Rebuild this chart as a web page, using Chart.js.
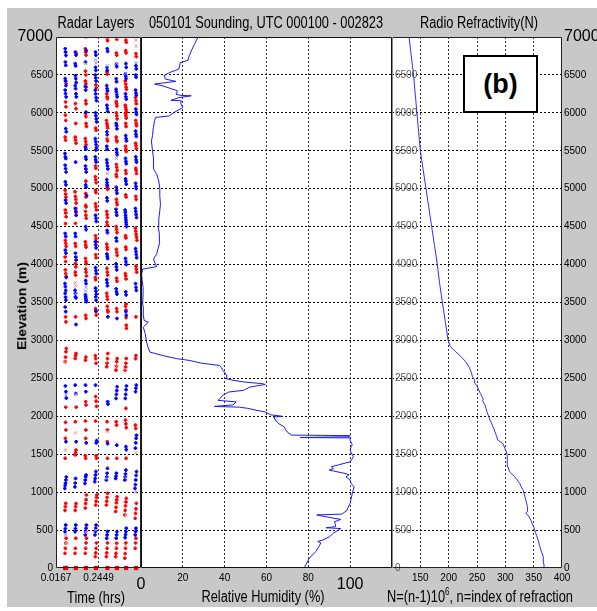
<!DOCTYPE html>
<html>
<head>
<meta charset="utf-8">
<script src="https://cdn.jsdelivr.net/npm/chart.js@4.4.0/dist/chart.umd.min.js"></script>
<style>
html,body{margin:0;padding:0;background:#fff;}
#fig{position:relative;width:597px;height:611px;overflow:hidden;background:#fff;font-family:"Liberation Sans",Arial,sans-serif;}
#frame{position:absolute;left:7px;top:8px;width:590px;height:599px;background:#c8c8c8;}
canvas{position:absolute;top:0;}
.lbl{position:absolute;white-space:nowrap;font-size:16px;line-height:1;color:#000;transform:translate(-50%,-50%) scaleX(0.8);}
.lbl sup{font-size:10px;vertical-align:7px;line-height:0;}
#ylab{position:absolute;left:22px;top:306px;white-space:nowrap;font-size:14px;font-weight:bold;line-height:1;transform:translate(-50%,-50%) rotate(-90deg) scaleY(0.85);}
#tag{position:absolute;left:463px;top:55px;width:71px;height:54px;border:2px solid #000;background:#fff;font:bold 27px "Liberation Sans",Arial,sans-serif;line-height:54px;text-align:center;}
</style>
</head>
<body>
<div id="fig">
  <div id="frame"></div>
  <canvas id="radar" width="145" height="611" style="left:0px"></canvas>
  <canvas id="humidity" width="295" height="611" style="left:100px"></canvas>
  <canvas id="refract" width="217" height="611" style="left:380px"></canvas>
  <div class="lbl" style="left:96px;top:23px">Radar Layers</div>
  <div class="lbl" style="left:266px;top:23px">050101 Sounding, UTC 000100 - 002823</div>
  <div class="lbl" style="left:479px;top:23px">Radio Refractivity(N)</div>
  <div class="lbl" style="left:96px;top:598px">Time (hrs)</div>
  <div class="lbl" style="left:263px;top:597px">Relative Humidity (%)</div>
  <div class="lbl" style="left:480px;top:597px">N=(n-1)10<sup>6</sup>, n=index of refraction</div>
  <div id="ylab">Elevation (m)</div>
  <div id="tag">(b)</div>
</div>
<script>
// ---- elevation axis ----
const elevMin = 0, elevMax = 7000, elevStep = 500;

// ---- radar layer detections: [time (hrs), elevation (m)] ----
const timeMin = 0.0167, timeMax = 0.4731;
const timeTicks = [0.0167, 0.2449];
const timeTickLabels = ['0.0167', '0.2449'];

const radarBlue = [
  [.066,6846],[.068,6802],[.070,6758],[.067,6670],[.069,6627],[.066,6451],[.068,6420],[.070,6360],[.066,6300],[.068,6254],[.071,6210],
  [.069,5793],[.072,5750],[.065,5464],[.067,5420],[.069,5398],[.066,5310],[.068,5266],[.071,5220],[.067,5090],[.070,5050],[.068,4850],[.071,4810],
  [.066,4410],[.069,4370],[.067,4190],[.070,4150],[.072,3830],[.065,3750],[.067,3710],[.069,3660],[.066,3620],[.068,3570],[.070,3530],
  [.066,3440],[.069,3380],[.067,2400],[.070,2324],[.072,2240],[.070,1665],[.064,1050],[.066,1090],[.068,1120],[.070,1160],[.072,1200],[.065,480],[.067,520],[.069,567],

  [.121,6800],[.124,6760],[.120,6649],[.122,6620],[.121,6490],[.123,6450],[.125,6400],[.120,6360],[.122,6320],[.124,6250],[.126,6210],
  [.122,5350],[.121,4740],[.123,4700],[.125,4650],[.120,4410],[.122,4370],[.121,4150],[.123,4100],[.125,4060],[.119,3660],[.121,3620],[.124,3560],
  [.121,3575],[.124,3210],[.120,2411],[.123,2300],[.125,1665],[.118,1070],[.120,1120],[.122,1180],[.119,480],[.121,520],[.123,567],

  [.179,6820],[.175,6670],[.174,6350],[.176,6300],[.178,6010],[.175,5550],[.177,5520],[.176,5420],[.178,5390],[.175,5300],[.177,5260],[.179,5220],
  [.176,5050],[.178,5020],[.181,4910],[.176,4500],[.178,4460],[.176,3790],[.178,3750],[.175,3600],[.177,3550],[.179,3510],
  [.176,3575],[.178,3530],[.175,2411],[.177,2324],[.179,1650],[.172,1116],[.174,1160],[.176,1200],[.178,1226],[.174,436],[.176,480],[.178,524],[.180,567],

  [.229,6800],[.231,6760],[.229,6600],[.231,6560],[.228,6500],[.230,6460],[.232,6420],[.228,6300],[.230,6250],[.232,6200],[.234,6160],
  [.229,6000],[.231,5960],[.233,5920],[.235,5880],[.228,5660],[.230,5620],[.232,5580],[.234,5540],[.231,5510],[.228,5420],[.230,5380],[.232,5350],
  [.229,4650],[.231,4610],[.233,4570],[.228,4300],[.230,4260],[.232,4220],[.229,3960],[.231,3920],[.233,3880],[.229,3690],[.231,3650],[.233,3610],
  [.230,3575],[.232,3530],[.231,3390],[.229,2411],[.233,1650],[.235,1680],[.225,1138],[.227,1180],[.229,1226],[.231,1270],[.226,436],[.228,480],[.230,524],[.232,567],

  [.292,6846],[.294,6810],[.290,6600],[.292,6560],[.289,6360],[.291,6320],[.293,6290],[.290,6100],[.292,6060],[.294,6020],[.290,5750],[.292,5710],
  [.289,5560],[.291,5520],[.289,5380],[.291,5340],[.293,5300],[.295,5260],[.289,5120],[.291,5080],[.293,5040],[.290,4880],[.292,4840],
  [.291,4450],[.293,4420],[.290,4140],[.292,4110],[.294,4080],[.289,3800],[.291,3760],[.293,3720],
  [.295,3310],[.294,2192],[.296,2160],[.294,1640],[.287,1160],[.289,1200],[.291,1250],[.293,1314],[.289,392],[.291,436],[.293,480],

  [.341,6640],[.343,6610],[.340,6450],[.342,6410],[.339,6310],[.341,6280],[.343,6240],[.345,6210],[.340,5860],[.342,5830],[.344,5790],
  [.341,5520],[.343,5480],[.345,5450],[.340,5020],[.342,4980],[.344,4940],[.339,4730],[.341,4690],[.343,4650],[.340,4350],[.342,4310],
  [.339,4010],[.341,3970],[.343,3930],[.340,3680],[.342,3640],[.344,3610],
  [.344,3290],[.339,2236],[.341,2290],[.343,2340],[.345,2390],[.343,1620],[.337,1180],[.339,1210],[.341,1250],[.340,392],[.342,436],[.344,480],

  [.392,6649],[.394,6600],[.389,6510],[.391,6480],[.393,6450],[.390,6250],[.392,6210],[.394,6180],[.391,5700],[.393,5660],[.395,5630],
  [.390,5400],[.392,5360],[.394,5330],[.390,5130],[.392,5100],[.394,5060],[.388,4720],[.389,4690],[.390,4650],[.391,4620],[.392,4590],
  [.393,4560],[.394,4530],[.395,4500],[.390,4080],[.392,4040],[.394,4000],[.391,3640],[.393,3600],
  [.392,3380],[.394,3330],[.389,2236],[.391,2290],[.393,2350],[.395,2400],[.392,1600],[.394,1560],[.386,1160],[.388,1200],[.390,1240],[.392,1290],
  [.388,400],[.390,440],[.392,480],[.394,524],

  [.446,6620],[.448,6580],[.445,6500],[.447,6470],[.444,6300],[.446,6260],[.448,6230],[.445,6050],[.447,6010],[.449,5980],[.444,5760],[.446,5720],
  [.448,5690],[.445,5420],[.447,5380],[.449,5350],[.444,5070],[.446,5030],[.448,5000],[.443,4740],[.445,4700],[.447,4660],[.449,4620],
  [.444,4210],[.446,4170],[.448,4130],[.450,4090],[.444,3750],[.446,3700],[.448,3660],
  [.444,2324],[.446,2370],[.448,2411],[.443,1580],[.445,1650],[.447,1710],[.449,1750],[.441,1050],[.443,1100],[.445,1160],[.447,1220],[.449,1270],
  [.442,436],[.444,480],[.446,524]
];

const radarRed = [
  [.071,6385],[.068,6144],[.070,6080],[.067,5970],[.069,5900],[.066,5680],[.068,5640],[.066,4980],[.068,4930],[.070,4890],[.067,4720],[.069,4680],
  [.071,4630],[.068,4540],[.067,4320],[.069,4280],[.071,4240],[.066,4100],[.068,4040],[.067,3930],[.069,3880],[.071,3840],
  [.068,3310],[.070,3245],[.066,2720],[.068,2780],[.070,2850],[.072,2894],[.069,2120],[.068,1920],[.070,1820],[.067,1710],[.066,1446],
  [.065,760],[.067,810],[.069,853],[.065,194],[.067,260],[.069,330],[.071,392],

  [.126,6780],[.121,6122],[.124,6056],[.123,5860],[.120,5680],[.122,5640],[.124,5600],[.119,4960],[.121,4900],[.123,4860],[.125,4810],
  [.122,4739],[.124,4690],[.121,4542],[.120,4278],[.122,4240],[.121,4015],[.123,3970],[.120,3900],[.122,3860],
  [.122,3311],[.120,2762],[.122,2800],[.124,2828],[.125,2120],[.121,1928],[.120,1489],[.122,1520],[.124,1555],[.120,760],[.122,810],[.124,850],
  [.119,194],[.121,260],[.123,392],

  [.174,6846],[.176,6800],[.178,6760],[.175,6550],[.177,6500],[.175,6420],[.177,6385],[.179,6340],[.176,6160],[.178,6120],[.175,5990],[.177,5950],
  [.178,5860],[.180,5820],[.174,5660],[.176,5620],[.178,5580],[.177,5100],[.176,4937],[.178,4890],[.176,4780],[.178,4760],[.175,4700],[.177,4650],
  [.179,4610],[.174,4300],[.176,4260],[.178,4230],[.175,4081],[.177,4040],[.179,4010],[.176,3940],[.178,3900],[.180,3850],
  [.176,3330],[.178,3290],[.175,2740],[.177,2780],[.176,2192],[.178,2148],[.175,1937],[.177,1819],[.176,1709],[.174,1480],[.176,1446],
  [.174,790],[.176,850],[.178,900],[.180,963],[.174,194],[.176,260],[.178,330],[.180,392],

  [.231,6370],[.233,6330],[.230,5800],[.232,5770],[.229,5300],[.231,5270],[.228,5160],[.230,5120],[.232,5080],[.229,4980],[.231,4950],
  [.229,4800],[.231,4760],[.233,4720],[.229,4380],[.231,4340],[.233,4300],[.230,4130],[.232,4090],[.228,3830],[.230,3800],
  [.229,3420],[.231,3380],[.233,3333],[.228,2800],[.230,2760],[.232,2700],[.230,2260],[.232,2200],[.234,2130],[.229,1937],[.232,1480],[.234,1446],
  [.230,830],[.232,880],[.234,930],[.236,963],[.228,150],[.230,200],[.232,260],[.234,330],

  [.292,6978],[.294,6950],[.290,6540],[.292,6510],[.289,6250],[.291,6210],[.293,6188],[.288,5900],[.290,5860],[.292,5830],[.294,5800],
  [.291,5661],[.293,5630],[.290,5050],[.292,5020],[.294,4990],[.289,4700],[.291,4660],[.293,4620],[.290,4560],[.292,4520],
  [.289,4270],[.291,4230],[.293,4200],[.290,3950],[.292,3900],[.294,3860],[.289,3620],[.291,3580],[.293,3540],
  [.292,3450],[.294,3400],[.296,3377],[.289,2653],[.291,2700],[.293,2760],[.295,2828],[.291,1928],[.293,1819],[.292,1665],[.293,1446],
  [.287,830],[.289,880],[.291,930],[.293,985],[.287,150],[.289,200],[.291,260],[.293,330],

  [.343,6970],[.341,6790],[.343,6760],[.340,6150],[.342,6120],[.344,6090],[.341,6000],[.343,5960],[.345,5920],[.340,5680],[.342,5640],[.344,5620],
  [.341,5320],[.343,5280],[.345,5240],[.340,5190],[.342,5160],[.341,4860],[.343,4820],[.345,4790],[.340,4500],[.342,4460],[.344,4420],
  [.341,4200],[.343,4160],[.345,4120],[.342,3820],[.344,3780],
  [.342,3420],[.344,3380],[.339,2609],[.341,2660],[.343,2720],[.345,2760],[.340,1928],[.342,1884],[.343,1446],
  [.337,745],[.339,800],[.341,860],[.343,900],[.345,940],[.337,150],[.339,194],[.341,260],[.343,326],

  [.392,6960],[.394,6930],[.391,6820],[.393,6790],[.389,6420],[.391,6380],[.393,6340],[.395,6310],[.389,6100],[.391,6070],[.393,6040],[.395,6010],
  [.390,5990],[.392,5960],[.394,5930],[.391,5860],[.393,5820],[.390,5560],[.392,5520],[.394,5490],[.391,5240],[.393,5200],[.391,4920],[.393,4890],
  [.390,4380],[.392,4350],[.391,4230],[.393,4200],[.389,3880],[.391,3850],[.393,3810],[.393,3480],
  [.390,3450],[.392,3400],[.393,3300],[.394,3200],[.395,3160],[.388,2609],[.390,2650],[.392,2700],[.394,2762],[.392,2104],
  [.390,1950],[.392,1900],[.394,1850],[.393,1446],[.386,700],[.388,760],[.390,820],[.392,870],[.394,919],[.386,129],[.388,190],[.390,260],[.392,330],

  [.446,6780],[.448,6740],[.444,6200],[.446,6160],[.448,6120],[.445,5900],[.447,5860],[.449,5830],[.444,5600],[.446,5570],[.448,5530],
  [.445,5270],[.447,5240],[.449,5200],[.445,4900],[.447,4860],[.443,4480],[.445,4440],[.447,4400],[.449,4360],[.451,4320],
  [.446,3980],[.448,3940],[.450,3900],
  [.446,3310],[.444,2760],[.446,2800],[.443,1884],[.445,1840],[.442,655],[.444,720],[.446,780],[.448,853],[.442,260],[.444,330],[.446,392]
];

// weaker (lighter) detections
const radarBlueX = [
  [.068,436],[.070,2280],[.123,3615],[.124,2290],[.177,6649],[.176,3650],[.178,3700],[.230,6700],[.232,6660],[.231,500],
  [.291,6620],[.292,5200],[.290,1180],[.342,6649],[.341,5400],[.392,6520],[.393,1190],[.446,6660],[.445,1000]
];
const radarRedX = [
  [.066,2720],[.068,1555],[.069,326],[.120,3760],[.122,3720],[.121,1780],[.177,6990],[.177,470],[.292,6990],[.291,5680],[.292,1800],
  [.342,6990],[.341,2653],[.341,300],[.392,6990],[.393,2620],[.391,700],[.390,300],[.446,6960],[.447,6880],[.445,1520]
];
// surface returns at 0 m
const surfaceHits = [[.066,0],[.071,0],[.123,0],[.177,0],[.231,0],[.293,0],[.344,0],[.393,0],[.447,0]];

// ---- relative humidity profile: [elevation (m), RH (%)] ----
const rhMin = 0, rhMax = 120;
const rhTicks = [0, 20, 40, 60, 80, 100];
const rhProfile = [
  [0,78],[50,79],[130,80.5],[215,83.5],[280,85],[330,86],[350,84.5],[370,87],[410,90],[460,92],[520,95.5],[530,88.5],[545,93],[570,93],
  [610,92.5],[640,95.5],[680,87.5],[700,84],[710,96],[760,98.5],[800,99],[850,100],[920,100.5],[980,101],[1030,101.5],[1070,102],
  [1110,100.5],[1160,100],[1200,98],[1230,99.5],[1250,97],[1290,90],[1310,92],[1335,91],[1360,94.5],[1400,100],[1440,101],[1470,101.5],
  [1520,100.5],[1560,100],[1600,100.5],[1625,101],[1680,100],[1715,100],[1720,76],[1730,99],[1745,100],[1752,72],[1790,70],[1830,69],
  [1860,68.5],[1900,66],[1925,65],[1960,64],[1990,63.5],[2000,67.5],[2020,62],[2057,59.4],[2080,55],[2105,51],[2120,47],[2130,35],
  [2150,44],[2190,45.5],[2210,36.8],[2240,38],[2276,39],[2320,42],[2342,49],[2385,52],[2420,59.4],[2430,58],[2450,50],[2474,44],
  [2496,40.8],[2540,41],[2580,40],[2605,39],[2640,38.5],[2670,37.6],[2700,29],[2737,23],[2760,17],[2800,10.5],[2846,4.3],[2900,3.5],
  [2978,2.7],[3090,2],[3175,1.1],[3240,3.5],[3265,1.5],[3350,1],[3440,1.1],[3480,0.8],[3600,1],[3700,1],[3800,0.5],[3877,0.3],[3940,0.8],
  [3974,7.5],[4030,6.5],[4075,6],[4140,7.5],[4200,8],[4293,9],[4400,8.8],[4490,8.3],[4600,8.5],[4710,9],[4800,9.3],[4900,9],[5000,9],
  [5100,8.5],[5190,7.5],[5260,6],[5370,6],[5410,5.9],[5500,5.5],[5630,5],[5700,5.5],[5805,5.9],[5900,6.5],[5940,7],[5960,13.5],[6000,15.5],
  [6070,20],[6120,19],[6160,19.3],[6165,14.3],[6200,18],[6225,24],[6230,19],[6245,16.7],[6290,17.5],[6355,10.5],[6380,6.5],[6415,16.7],
  [6445,11.7],[6490,11],[6530,13.5],[6575,18],[6620,18.5],[6660,18.7],[6695,22.5],[6750,23],[6815,24],[6900,25.5],[6970,26.7],[7000,27.5]
];

// ---- radio refractivity profile: [elevation (m), N] ----
const nMin = 100, nMax = 400, nStep = 50;
const refractivity = [
  [0,368.5],[60,368],[150,367],[230,363],[280,361],[368,358],[430,355],[500,352],[530,351],[570,348],[632,345],[697,340],[720,336],[740,339],
  [807,339],[870,337],[938,334.5],[1026,331.4],[1070,328],[1114,325.5],[1160,321],[1201,316.6],[1267,307.7],[1333,304.7],[1421,303.8],
  [1480,303],[1530,301.8],[1580,299],[1640,295.8],[1684,286.8],[1750,284],[1850,279],[1950,273],[2050,268],[2150,264],[2200,260],[2230,261],
  [2300,256],[2400,250],[2450,245],[2480,246],[2520,242],[2580,240],[2650,236],[2720,230],[2800,220],[2860,211],[2920,203],[3000,199],
  [3250,194],[3500,189],[3750,184],[4000,180],[4250,175],[4500,170],[4750,165],[5000,160],[5250,155],[5500,150],[5750,147],[6000,144],
  [6250,141],[6500,138],[6750,134],[7000,130]
];

// ---- shared styling ----
const tickFamily = "'Liberation Sans Narrow','Liberation Sans',Arial,sans-serif";
const smallFont = {family: tickFamily, size: 10, lineHeight: 1.2};
const bigFont = {family: tickFamily, size: 16, lineHeight: 1.55};
const gridDash = [2, 2];
const plain = v => String(v);

const toXY = arr => arr.map(p => ({x: p[0], y: p[1]}));
const profileXY = arr => arr.map(p => ({x: p[1], y: p[0]}));

// white plot background and dark frame around each axes box
const panelBox = {
  id: 'panelBox',
  beforeDraw(chart) {
    const {ctx, chartArea: a} = chart;
    ctx.save();
    ctx.fillStyle = '#fff';
    ctx.fillRect(a.left, a.top, a.right - a.left, a.bottom - a.top);
    ctx.restore();
  },
  afterDraw(chart, args, opts) {
    const {ctx, chartArea: a} = chart;
    const L = Math.round(a.left) + 0.5, R = Math.round(a.right) - 0.5;
    const T = Math.round(a.top) + 0.5, B = Math.round(a.bottom) - 0.5;
    ctx.save();
    ctx.lineWidth = 1;
    ctx.strokeStyle = opts.color || '#222';
    ctx.beginPath();
    ctx.moveTo(L, T); ctx.lineTo(R, T); ctx.lineTo(R, B); ctx.lineTo(L, B);
    ctx.stroke();
    ctx.strokeStyle = opts.leftColor || opts.color || '#222';
    ctx.beginPath(); ctx.moveTo(L, T); ctx.lineTo(L, B); ctx.stroke();
    ctx.restore();
  }
};

const hideEdge = (lo, hi, col) => c => (c.tick && (c.tick.value === lo || c.tick.value === hi)) ? 'rgba(0,0,0,0)' : col;

function elevAxis(extra) {
  return Object.assign({
    type: 'linear', min: elevMin, max: elevMax,
    ticks: {stepSize: elevStep, color: '#000', padding: 3, autoSkip: false, callback: plain,
            font: c => (c.tick && c.tick.value === elevMax) ? {family: tickFamily, size: 16} : smallFont},
    grid: {drawTicks: false, lineWidth: 1, color: hideEdge(elevMin, elevMax, '#000')},
    border: {display: false, dash: gridDash}
  }, extra);
}

const baseOptions = (padding) => ({
  responsive: false, animation: false, events: [],
  layout: {padding: padding, autoPadding: false},
  plugins: {legend: {display: false}, tooltip: {enabled: false}}
});

// ---- panel 1: radar layers ----
const opt1 = baseOptions({left: 0, right: 4, top: 37, bottom: 0});
opt1.plugins.panelBox = {color: '#222'};
opt1.scales = {
  x: {
    type: 'linear', min: timeMin, max: timeMax,
    afterBuildTicks: s => { s.ticks = timeTicks.map(v => ({value: v})); },
    afterFit: s => { s.height = 43; },
    ticks: {callback: (v, i) => timeTickLabels[i], font: smallFont, color: '#000', padding: 4, maxRotation: 0, autoSkip: false},
    grid: {drawTicks: false, color: hideEdge(timeMin, timeMax, '#444')},
    border: {display: false, dash: gridDash}
  },
  y: elevAxis({afterFit: s => { s.width = 56; }})
};
new Chart(document.getElementById('radar'), {
  type: 'scatter',
  data: {datasets: [
    {data: toXY(radarBlueX), pointStyle: 'crossRot', pointRadius: 2.2, pointBorderWidth: 1, pointBorderColor: '#8c8cff'},
    {data: toXY(radarRedX), pointStyle: 'crossRot', pointRadius: 2.2, pointBorderWidth: 1, pointBorderColor: '#ff8c8c'},
    {data: toXY(radarBlue), pointStyle: 'cross', pointRadius: 1.8, pointBorderWidth: 1.8, pointBorderColor: '#0000ff'},
    {data: toXY(radarRed), pointStyle: 'cross', pointRadius: 1.8, pointBorderWidth: 1.8, pointBorderColor: '#ff0000'},
    {data: toXY(surfaceHits), pointStyle: 'rect', pointRadius: 3, pointBorderWidth: 0, pointBackgroundColor: '#ff0000', clip: false}
  ]},
  options: opt1,
  plugins: [panelBox]
});

// ---- panel 2: relative humidity ----
const opt2 = baseOptions({left: 41, right: 3, top: 37, bottom: 0});
opt2.plugins.panelBox = {color: '#111'};
opt2.scales = {
  x: {
    type: 'linear', min: rhMin, max: rhMax,
    afterBuildTicks: s => { s.ticks = rhTicks.map(v => ({value: v})); },
    afterFit: s => { s.height = 43; },
    ticks: {callback: plain, color: '#000', padding: 4, maxRotation: 0, autoSkip: false,
            font: c => (c.tick && (c.tick.value === 0 || c.tick.value === 100)) ? bigFont : smallFont},
    grid: {drawTicks: false, color: hideEdge(rhMin, -1, '#333')},
    border: {display: false, dash: gridDash}
  },
  y: elevAxis({afterFit: s => { s.width = 0; }, ticks: {display: false, stepSize: elevStep}})
};
new Chart(document.getElementById('humidity'), {
  type: 'scatter',
  data: {datasets: [
    {data: profileXY(rhProfile), showLine: true, borderColor: '#1a1aff', borderWidth: 1, pointRadius: 0, tension: 0}
  ]},
  options: opt2,
  plugins: [panelBox]
});

// ---- panel 3: radio refractivity ----
const opt3 = baseOptions({left: 12, right: 0, top: 37, bottom: 0});
opt3.plugins.panelBox = {color: '#222', leftColor: '#888'};
opt3.scales = {
  x: {
    type: 'linear', min: nMin, max: nMax,
    afterFit: s => { s.height = 43; },
    ticks: {stepSize: nStep, callback: v => (v === nMin ? '' : String(v)), font: smallFont, color: '#000', padding: 4, maxRotation: 0, autoSkip: false},
    grid: {drawTicks: false, color: hideEdge(nMin, nMax, '#333')},
    border: {display: false, dash: gridDash}
  },
  y: elevAxis({
    afterFit: s => { s.width = 0; },
    ticks: {stepSize: elevStep, mirror: true, padding: 3, color: '#555', font: smallFont, autoSkip: false,
            callback: v => (v === elevMax ? '' : String(v))}
  }),
  y2: {
    type: 'linear', position: 'right', min: elevMin, max: elevMax,
    afterFit: s => { s.width = 35; },
    ticks: {stepSize: elevStep, color: '#000', padding: 2, autoSkip: false, callback: plain,
            font: c => (c.tick && c.tick.value === elevMax) ? {family: tickFamily, size: 16} : smallFont},
    grid: {display: false, drawTicks: false},
    border: {display: false}
  }
};
new Chart(document.getElementById('refract'), {
  type: 'scatter',
  data: {datasets: [
    {data: profileXY(refractivity), showLine: true, borderColor: '#3030ff', borderWidth: 1, pointRadius: 0, tension: 0}
  ]},
  options: opt3,
  plugins: [panelBox]
});
</script>
</body>
</html>
